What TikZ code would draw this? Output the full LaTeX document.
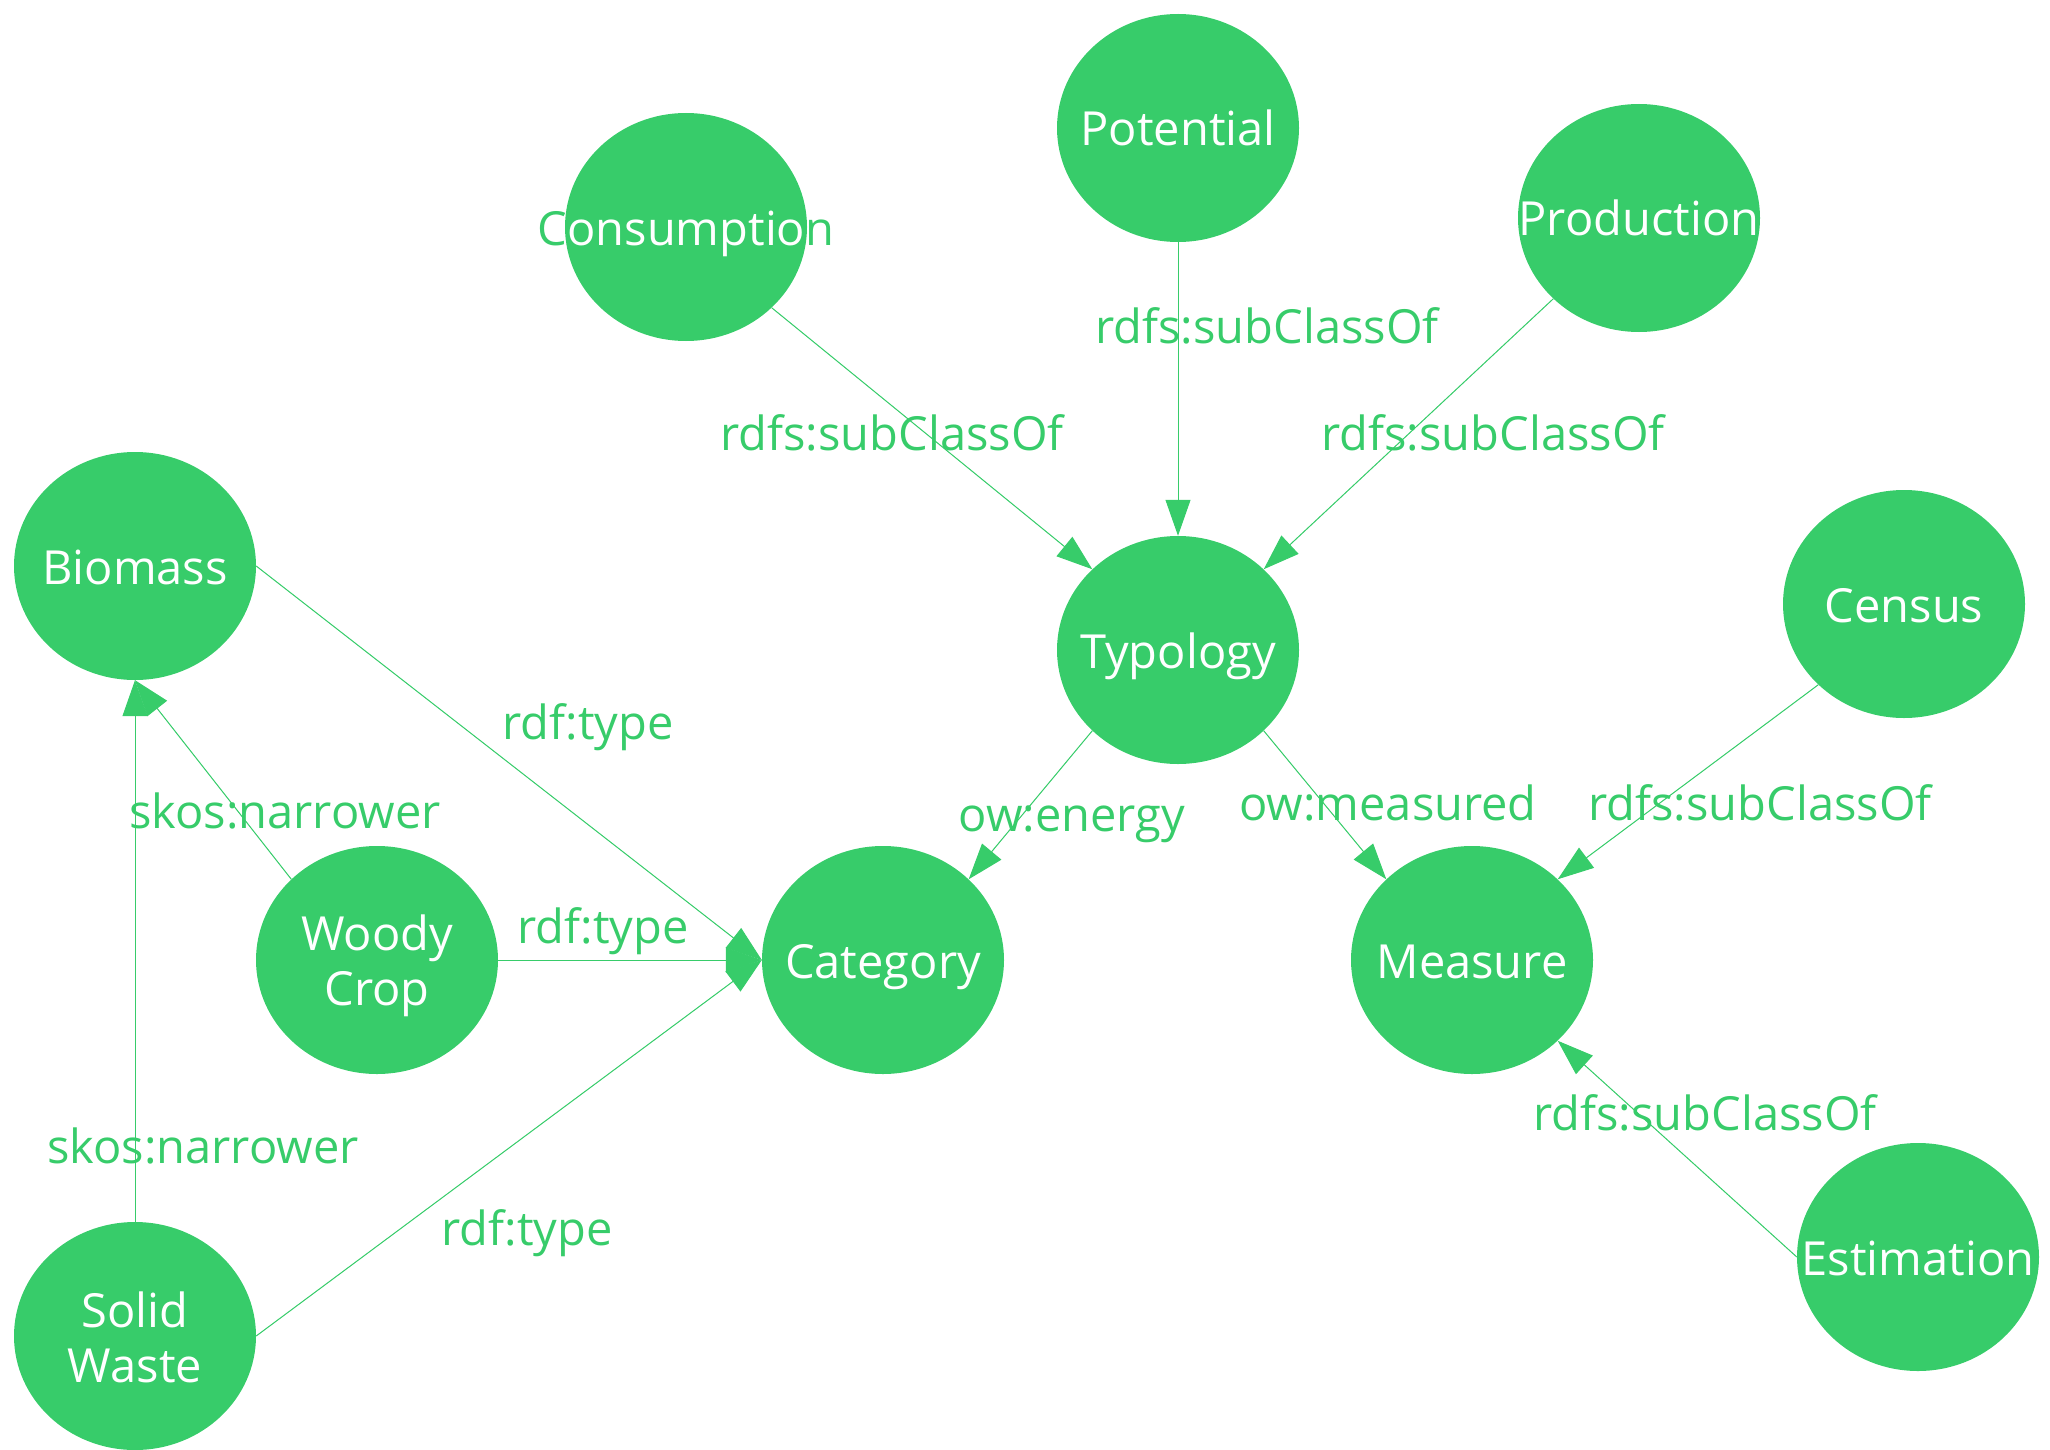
\documentclass[tikz,border=0pt]{standalone}
\usepackage{fontspec}
\setmainfont{Open Sans}
\usetikzlibrary{arrows.meta,shapes.geometric,calc}
\definecolor{eg}{RGB}{55,204,106}
\newcommand\entnode[5]{% name, x, y, text, baseline offset
  \node[ent] (#1) at (#2,#3) {};
  \node[etxt,text=eg] (#1g) at ($(#1.center)+(0,#5)$) {#4};
  \begin{scope}
    \clip (#1.center) ellipse [x radius=121pt, y radius=114pt];
    \node[etxt,text=white] (#1w) at ($(#1.center)+(0,#5)$) {#4};
  \end{scope}}
\begin{document}
\begin{tikzpicture}[x=1pt,y=-1pt,
  ent/.style={ellipse,fill=eg,draw=none,minimum width=242pt,minimum height=228pt,inner sep=0pt},
  etxt/.style={anchor=base,inner sep=0pt,align=center,font=\fontsize{47}{55}\selectfont},
  elbl/.style={anchor=base,inner sep=0pt,text=eg,font=\fontsize{47}{55}\selectfont},
  rel/.style={draw=eg,line width=1pt,-{Triangle[length=36pt,width=25pt]},fill=eg}]
\useasboundingbox (0,0) rectangle (2050,1450);
\entnode{pot}{1178}{128}{Potential}{18}
\entnode{con}{686}{227}{Consumption}{18}
\entnode{pro}{1639}{218}{Production}{18}
\entnode{bio}{135}{566}{Biomass}{18}
\entnode{typ}{1178}{650}{Typology}{18}
\entnode{cen}{1904}{604}{Census}{18}
\entnode{woo}{377}{960}{Woody\\Crop}{45}
\entnode{cat}{883}{960}{Category}{18}
\entnode{mea}{1472}{960}{Measure}{18}
\entnode{sol}{135}{1336}{Solid\\Waste}{46}
\entnode{est}{1918}{1257}{Estimation}{18}
% edges
\path[rel] (con.south east) -- (typ.north west);
\path[rel] (pot.south) -- (typ.north);
\path[rel] (pro.south west) -- (typ.north east);
\path[rel] (typ.south west) -- (cat.north east);
\path[rel] (typ.south east) -- (mea.north west);
\path[rel] (cen.south west) -- (mea.north east);
\path[rel] (est.west) -- (mea.south east);
\path[rel] (bio.east) -- (cat.west);
\path[rel] (woo.east) -- (cat.west);
\path[rel] (sol.east) -- (cat.west);
\path[rel] (woo.north west) -- (bio.south);
\path[rel] (sol.north) -- (bio.south);
% labels
\node[elbl] (l1) at (892,450) {rdfs:subClassOf};
\node[elbl] (l2) at (1267,343) {rdfs:subClassOf};
\node[elbl] (l3) at (1493,450) {rdfs:subClassOf};
\node[elbl] (l4) at (588,739) {rdf:type};
\node[elbl] (l5) at (285,828) {skos:narrower};
\node[elbl] (l6) at (603,943) {rdf:type};
\node[elbl] (l7) at (203,1163) {skos:narrower};
\node[elbl] (l8) at (527,1245) {rdf:type};
\node[elbl] (l9) at (1072,831) {ow:energy};
\node[elbl] (l10) at (1388,820) {ow:measured};
\node[elbl] (l11) at (1760,820) {rdfs:subClassOf};
\node[elbl] (l12) at (1705,1130) {rdfs:subClassOf};
\end{tikzpicture}
\end{document}
